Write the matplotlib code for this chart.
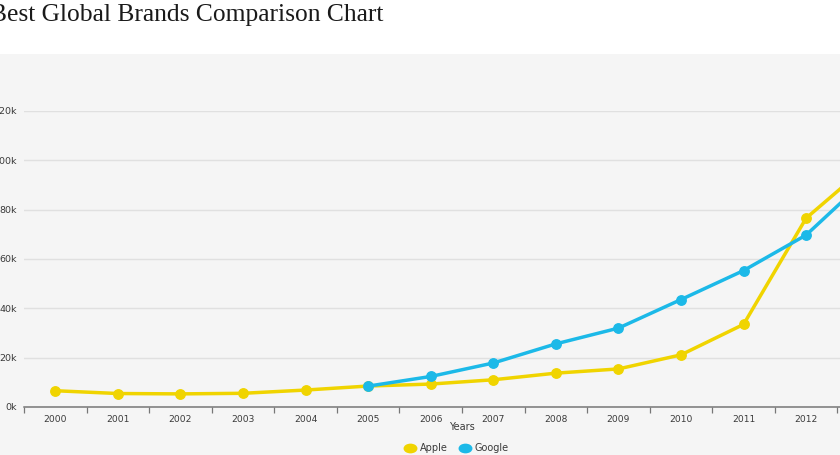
import numpy as np
import matplotlib
matplotlib.use("Agg")
from matplotlib import pyplot as plt
from matplotlib.lines import Line2D
from matplotlib.patches import Rectangle
from matplotlib.path import Path
from matplotlib.transforms import Affine2D

# brand values, millions of dollars
years = ["2000", "2001", "2002", "2003", "2004", "2005", "2006",
         "2007", "2008", "2009", "2010", "2011", "2012", "2013"]
apple = [6594, 5464, 5316, 5554, 6871, 8500, 9300,
         11037, 13724, 15433, 21143, 33492, 76568, 98316]
google = [None, None, None, None, None, 8461, 12376,
          17837, 25590, 31980, 43557, 55317, 69726, 93291]

YELLOW = "#f0d400"
BLUE = "#1cb9e8"
BG = "#f5f5f5"
TXT = "#3a3a3a"

W, H = 840, 455
fig = plt.figure(figsize=(W / 100, H / 100), dpi=100)
fig.patch.set_facecolor("white")

# grey chart background below the title strip
fig.patches.append(Rectangle((0, 0), 1, (H - 54) / H, transform=fig.transFigure,
                             facecolor=BG, edgecolor="none", zorder=-5))

fig.text(-10 / W, 1 - 14.5 / H, "Best Global Brands Comparison Chart",
         family="Liberation Serif", fontsize=18.4, color="#1a1a1a",
         ha="left", va="center")

ax = fig.add_axes([24 / W, (H - 407) / H, 876 / W, 296 / H])
ax.set_facecolor(BG)

x = np.arange(len(years))
g = np.array([np.nan if v is None else v for v in google], dtype=float)

ax.plot(x, apple, color=YELLOW, lw=2.5, marker="o", ms=6.8, zorder=3,
        clip_on=False)
ax.plot(x, g, color=BLUE, lw=2.5, marker="o", ms=6.8, zorder=4,
        clip_on=False)

ax.set_xlim(-0.5, len(years) - 0.5)
ax.set_ylim(0, 120000)

ax.set_xticks(x)
ax.set_xticklabels(years)
ax.set_xticks(np.arange(-0.5, len(years)), minor=True)
ax.tick_params(axis="x", which="major", length=0, pad=6, labelsize=6.6,
               labelcolor=TXT)
ax.tick_params(axis="x", which="minor", length=4, color="#777777", width=0.9)

yt = np.arange(0, 120001, 20000)
ax.set_yticks(yt)
ax.set_yticklabels([f"{int(v / 1000)}k" for v in yt])
ax.tick_params(axis="y", length=0, pad=5, labelsize=6.8, labelcolor=TXT)
ax.grid(axis="y", color="#e0e0e0", lw=1)
ax.set_axisbelow(True)

for s in ["top", "right", "left"]:
    ax.spines[s].set_visible(False)
ax.spines["bottom"].set_color("#777777")
ax.spines["bottom"].set_linewidth(1.1)

fig.text(462 / W, 1 - 427 / H, "Years", fontsize=7, color=TXT,
         ha="center", va="center")

# flat oval legend symbols
oval = Path.unit_circle().transformed(Affine2D().scale(1.5, 1.0))
handles = [Line2D([], [], color=YELLOW, marker=oval, ms=9, lw=0),
           Line2D([], [], color=BLUE, marker=oval, ms=9, lw=0)]
fig.legend(handles, ["Apple", "Google"], loc="center",
           bbox_to_anchor=(457 / W, 1 - 448 / H), ncol=2, frameon=False,
           fontsize=7, handlelength=1.0, handletextpad=0.5,
           columnspacing=1.3, labelcolor=TXT)

fig.savefig("out.png", dpi=100, facecolor=fig.get_facecolor())
